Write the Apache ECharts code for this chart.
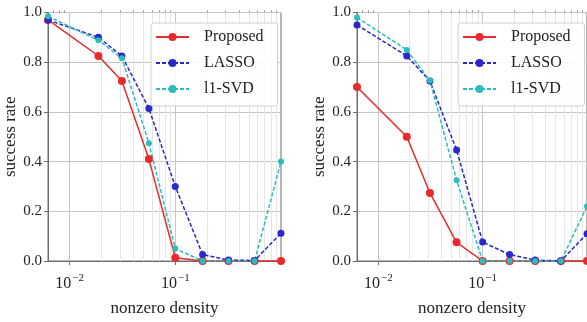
<!DOCTYPE html>
<html>
<head>
<meta charset="utf-8">
<script src="https://cdn.jsdelivr.net/npm/echarts@6/dist/echarts.min.js"></script>
<style>
  html, body { margin: 0; padding: 0; background: #fff; }
  #chart { width: 587px; height: 322px; }
</style>
</head>
<body>
<div id="chart"></div>
<script>
// nonzero density sample points (log x axis)
const densities = [0.00625, 0.01875, 0.03125, 0.05625, 0.1, 0.18125, 0.31875, 0.5625, 1];

// left panel
const leftProposed = [0.97, 0.825, 0.724, 0.41, 0.013, 0, 0, 0, 0];
const leftLasso = [0.97, 0.90, 0.825, 0.614, 0.30, 0.026, 0.004, 0.002, 0.112];
const leftSvd = [0.985, 0.888, 0.816, 0.474, 0.05, 0, 0, 0, 0.40];

// right panel
const rightProposed = [0.70, 0.50, 0.274, 0.075, 0, 0, 0, 0, 0];
const rightLasso = [0.95, 0.825, 0.724, 0.447, 0.076, 0.026, 0.004, 0, 0.11];
const rightSvd = [0.98, 0.849, 0.726, 0.325, 0, 0, 0, 0, 0.22];

const seriesNames = ['Proposed', 'LASSO', 'l1-SVD'];
const xMajorTicks = [0.01, 0.1];
const xMinorTicks = [0.007, 0.008, 0.009, 0.02, 0.03, 0.04, 0.05, 0.06, 0.07, 0.08, 0.09,
    0.2, 0.3, 0.4, 0.5, 0.6, 0.7, 0.8, 0.9];

const FONT = 'Liberation Serif';
const TEXT = '#222';
const RED = '#e82a2a';
const BLUE = '#2828cc';
const CYAN = '#2cbcbc';
const FRAME = '#6e6e6e';

const pairs = (vals) => densities.map((d, i) => [d, vals[i]]);

const grids = [
    {left: 48, top: 12.5, width: 233, height: 254},
    {left: 357, top: 12.5, width: 232, height: 254},
];

const makeXAxes = (gi) => [
    {
        type: 'log',
        logBase: 10,
        gridIndex: gi,
        min: densities[0],
        max: 1,
        name: 'nonzero density',
        nameLocation: 'middle',
        nameGap: 39,
        nameTextStyle: {fontFamily: FONT, fontSize: 17, color: TEXT},
        axisLine: {show: true, lineStyle: {color: FRAME, width: 1}},
        axisTick: {show: true, length: 4, customValues: xMajorTicks, lineStyle: {color: FRAME}},
        axisLabel: {
            customValues: xMajorTicks,
            margin: 12,
            formatter: (v) => '{b|10}{s|\u2212' + (-Math.round(Math.log10(v))) + '}',
            rich: {
                b: {fontFamily: FONT, fontSize: 16, color: TEXT},
                s: {fontFamily: FONT, fontSize: 11, color: TEXT, padding: [0, 0, 10, 1]},
            },
        },
        splitLine: {show: false},
    },
    {
        // minor ticks only
        type: 'log',
        logBase: 10,
        gridIndex: gi,
        min: densities[0],
        max: 1,
        axisLine: {show: false},
        axisTick: {show: true, length: 2, customValues: xMinorTicks, lineStyle: {color: '#888'}},
        axisLabel: {show: false},
        splitLine: {show: false},
    },
];

const makeYAxis = (gi) => ({
    type: 'value',
    gridIndex: gi,
    min: 0,
    max: 1,
    interval: 0.2,
    name: 'success rate',
    nameLocation: 'middle',
    nameGap: 29,
    nameTextStyle: {fontFamily: FONT, fontSize: 17, color: TEXT},
    axisLine: {show: true, lineStyle: {color: FRAME, width: 1}},
    axisTick: {show: true, length: 4, lineStyle: {color: FRAME}},
    axisLabel: {
        fontFamily: FONT, fontSize: 15, color: TEXT, margin: 6,
        formatter: (v) => v.toFixed(1),
    },
    splitLine: {show: true, lineStyle: {color: '#c6c6c6', width: 1}},
});

const gridLines = (gi) => ({
    // decade + minor vertical grid lines
    type: 'line',
    xAxisIndex: gi * 2,
    yAxisIndex: gi,
    data: [],
    silent: true,
    markLine: {
        silent: true,
        z: 1,
        symbol: ['none', 'none'],
        label: {show: false},
        emphasis: {disabled: true},
        data: xMinorTicks.map((v) => ({xAxis: v, lineStyle: {color: '#e6e6e6', width: 1, type: 'solid'}}))
            .concat(xMajorTicks.map((v) => ({xAxis: v, lineStyle: {color: '#c6c6c6', width: 1, type: 'solid'}}))),
    },
});

const lineSeries = (gi, name, vals, color, dashed, size) => ({
    name: name,
    type: 'line',
    xAxisIndex: gi * 2,
    yAxisIndex: gi,
    data: pairs(vals),
    z: 3,
    symbol: 'circle',
    symbolSize: size,
    showAllSymbol: true,
    clip: false,
    itemStyle: {color: color},
    lineStyle: {color: color, width: 1.5, type: dashed ? [4, 2] : 'solid'},
});

const makeLegend = (left) => ({
    orient: 'vertical',
    left: left,
    top: 23,
    data: seriesNames,
    itemWidth: 33,
    itemHeight: 10,
    itemGap: 10,
    padding: [6, 14, 9, 4],
    backgroundColor: 'rgba(255,255,255,0.85)',
    borderColor: '#d0d0d0',
    borderWidth: 1,
    borderRadius: 3,
    textStyle: {fontFamily: FONT, fontSize: 16, color: TEXT, lineHeight: 16, padding: [0, 0, 0, 10]},
});

const option = {
    animation: false,
    backgroundColor: '#fff',
    grid: grids.map((g) => Object.assign({show: true, borderColor: FRAME, borderWidth: 1}, g)),
    xAxis: makeXAxes(0).concat(makeXAxes(1)),
    yAxis: [makeYAxis(0), makeYAxis(1)],
    legend: [makeLegend(151), makeLegend(458)],
    series: [
        gridLines(0),
        gridLines(1),
        lineSeries(0, 'Proposed', leftProposed, RED, false, 8),
        lineSeries(0, 'LASSO', leftLasso, BLUE, true, 7),
        lineSeries(0, 'l1-SVD', leftSvd, CYAN, true, 6),
        lineSeries(1, 'Proposed', rightProposed, RED, false, 8),
        lineSeries(1, 'LASSO', rightLasso, BLUE, true, 7),
        lineSeries(1, 'l1-SVD', rightSvd, CYAN, true, 6),
    ],
};

const myChart = echarts.init(document.getElementById('chart'));
myChart.setOption(option);
</script>
</body>
</html>
